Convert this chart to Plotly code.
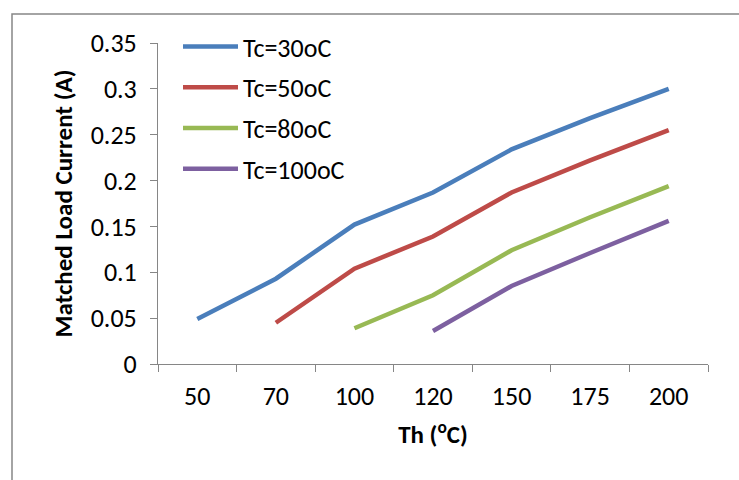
import plotly.graph_objects as go

categories = ["50", "70", "100", "120", "150", "175", "200"]
series_names = ["Tc=30oC", "Tc=50oC", "Tc=80oC", "Tc=100oC"]
tc30 = [0.049, 0.093, 0.152, 0.187, 0.234, 0.268, 0.300]
tc50 = [None, 0.045, 0.104, 0.139, 0.187, 0.222, 0.255]
tc80 = [None, None, 0.039, 0.075, 0.124, 0.160, 0.194]
tc100 = [None, None, None, 0.036, 0.085, 0.121, 0.156]
colors = ["#4A7EBB", "#BE4B48", "#98B954", "#7D60A0"]
y_ticks = [0, 0.05, 0.1, 0.15, 0.2, 0.25, 0.3, 0.35]
y_ticktext = ["0", "0.05", "0.1", "0.15", "0.2", "0.25", "0.3", "0.35"]

FONT = "Carlito, Calibri, 'Liberation Sans Narrow', 'Liberation Sans', Arial, sans-serif"

fig = go.Figure()
for i, (name, vals) in enumerate(zip(series_names, [tc30, tc50, tc80, tc100])):
    fig.add_trace(go.Scatter(
        x=categories, y=vals, mode="lines", name=name,
        line=dict(color=colors[i], width=4.5),
        legendgroup=name, connectgaps=False,
    ))

axis_color = "#868686"
L, R, T, B = 158, 31, 43, 116
W, H = 739, 480
pw, ph = W - L - R, H - T - B

fig.update_layout(
    width=W, height=H,
    margin=dict(l=L, r=R, t=T, b=B),
    paper_bgcolor="white", plot_bgcolor="white",
    font=dict(family=FONT, color="black", size=26),
    showlegend=True,
    legend=dict(
        x=(178 - L) / pw, y=(364 - 23) / ph, xanchor="left", yanchor="top",
        bgcolor="rgba(0,0,0,0)", font=dict(size=26, family=FONT),
        tracegroupgap=4, itemwidth=55,
    ),
    xaxis=dict(
        type="category", categoryorder="array", categoryarray=categories,
        range=[-0.5, 6.5], tickson="boundaries",
        showline=True, linecolor=axis_color, linewidth=1,
        ticks="outside", ticklen=7, tickcolor=axis_color,
        showgrid=False, zeroline=False,
        tickfont=dict(size=26, family=FONT),
        ticklabelstandoff=9,
        title=dict(text="<b>Th (<sup>o</sup>C)</b>", font=dict(size=25, family=FONT), standoff=14),
    ),
    yaxis=dict(
        range=[0, 0.35], tickvals=y_ticks, ticktext=y_ticktext,
        showline=True, linecolor=axis_color, linewidth=1,
        ticks="outside", ticklen=7, tickcolor=axis_color,
        showgrid=False, zeroline=False,
        tickfont=dict(size=26, family=FONT),
        ticklabelstandoff=8,
        title=dict(text="<b>Matched Load Current (A)</b>", font=dict(size=25, family=FONT), standoff=10),
    ),
)

# outer chart border (left & top edges visible)
fig.add_shape(type="rect", xref="paper", yref="paper",
              x0=(12 - L) / pw, x1=(W + 10 - L) / pw,
              y0=(364 - (H + 10)) / ph, y1=(364 - 14) / ph,
              line=dict(color=axis_color, width=1.5), fillcolor="rgba(0,0,0,0)", layer="below")

fig.write_html("out.html", config={"displayModeBar": False},
               post_script="document.body.style.margin='0';document.body.style.overflow='hidden';")
